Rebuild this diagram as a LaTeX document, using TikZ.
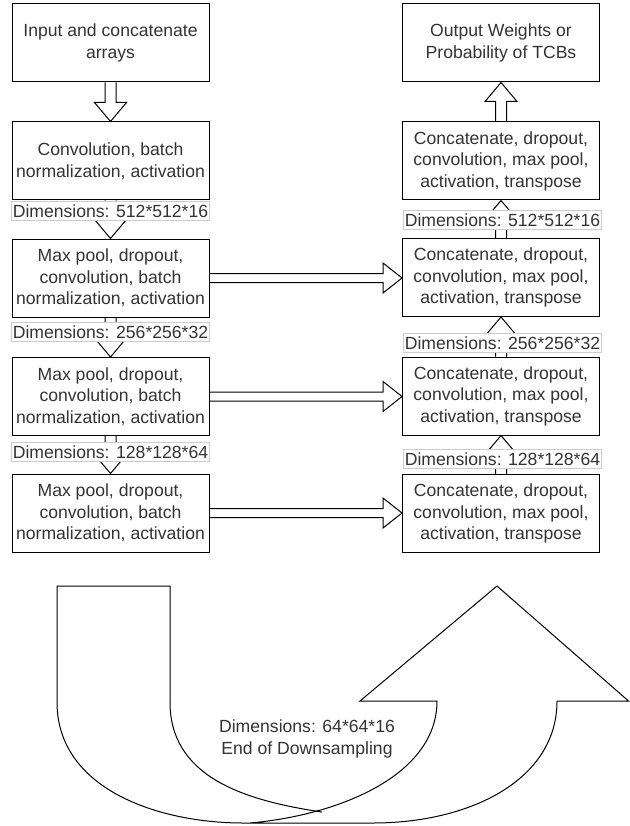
\documentclass[tikz,border=0pt]{standalone}
\usepackage{fontspec}
\setmainfont{Liberation Sans}
\usetikzlibrary{calc}
\newcommand{\diagfont}{\fontsize{17.6}{21.5}\selectfont}
\newcommand{\hollowdown}[2]{\draw[harrow] let \p1=(#1.south), \p2=(#2.north) in
  (\x1-5.5pt,\y1) -- (\x1-5.5pt,\y2+19pt) -- (\x1-16pt,\y2+19pt) -- (\x1,\y2) -- (\x1+16pt,\y2+19pt) -- (\x1+5.5pt,\y2+19pt) -- (\x1+5.5pt,\y1);}
\newcommand{\hollowup}[2]{\draw[harrow] let \p1=(#1.north), \p2=(#2.south) in
  (\x1-5.5pt,\y1) -- (\x1-5.5pt,\y2-19pt) -- (\x1-16pt,\y2-19pt) -- (\x1,\y2) -- (\x1+16pt,\y2-19pt) -- (\x1+5.5pt,\y2-19pt) -- (\x1+5.5pt,\y1);}
\newcommand{\hollowright}[2]{\draw[harrow] let \p1=(#1.east), \p2=(#2.west) in
  (\x1,\y1+4.5pt) -- (\x2-19pt,\y1+4.5pt) -- (\x2-19pt,\y1+15pt) -- (\x2,\y1) -- (\x2-19pt,\y1-15pt) -- (\x2-19pt,\y1-4.5pt) -- (\x1,\y1-4.5pt);}
\begin{document}
\begin{tikzpicture}[x=1pt,y=1pt,
  box/.style={draw=black, line width=1pt, minimum width=197pt, minimum height=78pt, align=center, inner sep=0pt, text=black!80, font=\diagfont},
  dimlabel/.style={draw=black!20, fill=white, line width=0.8pt, inner xsep=1pt, inner ysep=0pt, minimum height=19pt, text=black!80, font=\diagfont},
  harrow/.style={draw=black, line width=1pt, line join=miter},
  bigarrow/.style={draw=black, line width=1pt, line join=miter}]
\useasboundingbox (0,0) rectangle (629,-826);

% left column
\node[box] (B1) at (110.5,-43) {Input and concatenate\\arrays};
\node[box] (B2) at (110.5,-161) {Convolution, batch\\normalization, activation};
\node[box] (B3) at (110.5,-278) {Max pool, dropout,\\convolution, batch\\normalization, activation};
\node[box] (B4) at (110.5,-396.5) {Max pool, dropout,\\convolution, batch\\normalization, activation};
\node[box] (B5) at (110.5,-513) {Max pool, dropout,\\convolution, batch\\normalization, activation};

% right column
\node[box] (T) at (501,-43) {Output Weights or\\Probability of TCBs};
\node[box] (R1) at (501,-161) {Concatenate, dropout,\\convolution, max pool,\\activation, transpose};
\node[box] (R2) at (501,-277.5) {Concatenate, dropout,\\convolution, max pool,\\activation, transpose};
\node[box] (R3) at (501,-396) {Concatenate, dropout,\\convolution, max pool,\\activation, transpose};
\node[box] (R4) at (501,-513.5) {Concatenate, dropout,\\convolution, max pool,\\activation, transpose};

% arrows
\hollowdown{B1}{B2}
\hollowdown{B2}{B3}
\hollowdown{B3}{B4}
\hollowdown{B4}{B5}
\hollowup{R1}{T}
\hollowup{R2}{R1}
\hollowup{R3}{R2}
\hollowup{R4}{R3}
\hollowright{B3}{R2}
\hollowright{B4}{R3}
\hollowright{B5}{R4}

% dimension labels
\node[dimlabel] (L1) at (110.5,-211) {Dimensions: 512*512*16};
\node[dimlabel] (L2) at (110.5,-332) {Dimensions: 256*256*32};
\node[dimlabel] (L3) at (110.5,-452) {Dimensions: 128*128*64};
\node[dimlabel] (RL1) at (502.5,-220) {Dimensions: 512*512*16};
\node[dimlabel] (RL2) at (502.5,-343) {Dimensions: 256*256*32};
\node[dimlabel] (RL3) at (502.5,-459) {Dimensions: 128*128*64};

% U-turn arrow
\draw[bigarrow] (170,-702) -- (170,-586) -- (57,-586) -- (57,-702)
  .. controls (57,-790) and (160,-823) .. (243,-823) -- (373,-823)
  .. controls (470,-823) and (557,-780) .. (557,-701) -- (628.5,-701) -- (497,-586) -- (360,-701) -- (437,-701)
  .. controls (437,-775) and (340,-815) .. (250,-823);
\draw[bigarrow] (170,-702) .. controls (170,-775) and (240,-800) .. (322,-812);
\node[align=center, text=black!80, font=\diagfont, inner sep=0pt] (ds) at (307,-739) {Dimensions: 64*64*16\\End of Downsampling};
\end{tikzpicture}
\end{document}
